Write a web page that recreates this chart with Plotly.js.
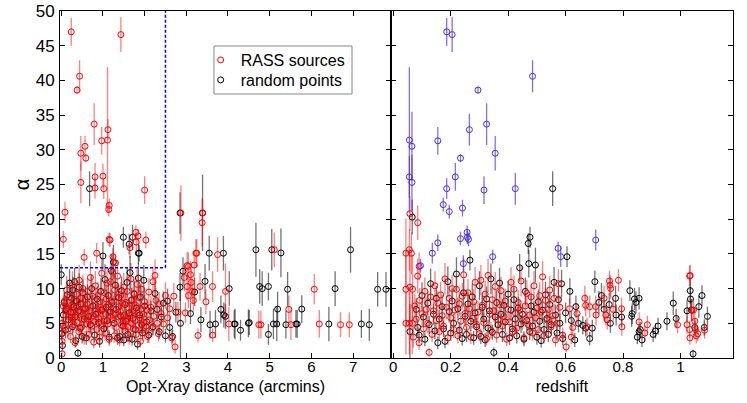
<!DOCTYPE html>
<html>
<head>
<meta charset="utf-8">
<script src="https://cdn.plot.ly/plotly-3.0.1.min.js"></script>
<style>html,body{margin:0;padding:0;background:#fff;}#plot{width:747px;height:403px;}</style>
</head>
<body>
<div id="plot"></div>
<script>
// ---------- Left panel: RASS sources (red) ----------
const leftRedX = [
 0.24,1.43,0.44,0.38,0.79,1.12,0.97,1.11,0.57,0.47,
 0.59,0.47,0.81,1.00,0.81,1.02,2.00,0.09,0.05,1.15,
 1.14,1.15,1.17,0.55,0.85,1.24,1.30,1.79,1.65,2.03,
 1.80,1.84,
 0.02,0.02,0.03,0.02,0.04,0.05,0.08,0.10,0.12,0.13,0.15,0.17,0.18,0.20,0.22,0.24,0.25,0.27,0.28,0.30,
 0.32,0.33,0.35,0.37,0.38,0.40,0.42,0.43,0.45,0.47,0.48,0.50,0.52,0.53,0.55,0.56,0.58,0.60,
 0.62,0.63,0.65,0.67,0.68,0.70,0.72,0.73,0.75,0.77,0.78,0.80,0.82,0.83,0.85,0.87,0.88,0.90,0.92,0.93,0.95,0.97,0.98,1.00,
 1.02,1.03,1.05,1.07,1.08,1.10,1.12,1.13,1.15,1.17,1.18,1.20,1.22,1.23,1.25,1.27,1.28,1.30,1.32,1.33,1.35,1.37,1.38,1.40,1.42,1.43,1.45,1.47,1.48,1.50,
 1.52,1.53,1.55,1.57,1.58,1.60,1.62,1.63,1.65,1.67,1.68,1.70,1.72,1.73,1.75,1.77,1.78,1.80,1.82,1.83,1.85,1.87,1.88,1.90,1.92,1.93,1.95,1.97,1.98,2.00,
 2.03,2.05,2.07,2.10,2.12,2.15,2.18,2.20,2.22,2.25,2.27,2.30,2.33,2.35,2.40,2.45,2.50,2.55,2.60,2.65,2.70,2.73,2.80,
 2.87,3.38,3.39,3.23,3.75,5.11,3.02,3.19,3.25,3.05,
 3.02,3.05,3.12,3.15,3.17,3.28,3.33,3.47,3.63,3.63,
 3.94,4.02,4.74,4.79,5.46,5.51,6.07,6.19,6.70,6.91,
 2.95,3.10,2.98
];
const leftRedAlpha = [
 47.0,46.6,40.6,38.6,33.7,32.9,31.3,31.4,30.5,29.5,
 28.8,25.3,26.1,26.2,24.5,24.4,24.2,21.0,17.1,22.0,
 21.4,17.1,17.0,14.5,15.1,14.6,13.7,18.1,15.9,17.0,
 16.7,17.6,
 0.6,2.4,3.6,5.0,4.6,7.5,8.2,6.8,5.5,9.8,7.2,4.2,6.0,8.8,3.1,7.6,5.8,10.5,6.5,4.8,
 8.0,2.2,6.2,9.2,5.1,7.4,3.8,11.2,6.6,8.6,4.4,5.6,10.0,7.0,2.9,6.0,8.4,4.9,
 7.8,9.6,5.4,3.4,6.8,11.6,7.3,4.6,8.9,6.1,2.3,5.2,10.4,7.6,4.1,6.5,9.0,5.7,3.0,8.1,6.9,12.2,4.7,7.1,
 5.3,9.4,3.6,6.3,8.5,10.8,4.9,7.7,2.7,6.0,11.0,8.2,5.5,12.4,7.0,3.2,9.8,6.4,4.4,8.8,11.8,5.9,7.4,2.6,6.7,9.1,4.8,7.9,5.2,10.2,
 6.2,3.9,8.0,5.6,9.6,4.5,7.2,2.9,6.1,11.4,5.0,8.4,6.8,4.2,9.3,5.4,7.6,3.4,10.6,6.5,4.7,8.7,5.8,2.4,7.0,9.9,4.0,6.3,5.1,8.1,
 4.6,6.9,3.1,9.5,5.5,7.3,4.3,11.0,6.0,11.9,8.3,5.0,3.5,7.8,6.4,4.9,9.0,5.8,7.1,2.9,8.9,1.6,6.6,
 20.9,19.5,20.9,15.1,14.9,15.6,13.3,13.4,15.1,13.2,
 10.3,9.0,10.9,9.6,8.3,3.25,10.3,8.1,10.3,3.3,
 9.6,4.9,4.8,4.8,7.0,4.8,9.9,4.9,4.8,4.8,
 11.6,12.0,6.5
];
const leftRedErr = [
 2.0,2.5,2.3,0.6,3.0,1.5,2.0,10.5,1.5,2.5,
 0.6,3.0,2.0,1.8,1.5,1.5,2.0,1.5,1.2,1.0,
 1.0,1.0,1.0,1.2,1.5,1.2,1.2,1.0,1.5,1.2,
 1.2,1.0,
 0.5,0.8,1.0,1.0,1.2,1.5,1.2,1.5,1.5,2.0,1.3,1.2,1.4,1.8,1.0,1.5,1.3,2.0,1.6,1.2,
 1.5,0.8,1.4,1.8,1.3,1.6,1.1,2.2,1.5,1.7,1.2,1.4,2.0,1.6,1.0,1.5,1.8,1.3,
 1.7,2.0,1.4,1.1,1.6,2.3,1.6,1.2,1.9,1.5,0.9,1.3,2.1,1.7,1.2,1.5,2.0,1.4,1.0,1.8,1.6,2.4,1.3,1.6,
 1.4,2.0,1.1,1.5,1.8,2.2,1.3,1.7,1.0,1.5,2.2,1.8,1.4,2.5,1.6,1.0,2.0,1.5,1.2,1.9,2.3,1.5,1.7,0.9,1.6,1.9,1.3,1.7,1.4,2.1,
 1.5,1.2,1.8,1.4,2.0,1.2,1.6,1.0,1.5,2.3,1.3,1.8,1.6,1.2,2.0,1.4,1.7,1.1,2.2,1.5,1.3,1.9,1.4,0.9,1.6,2.0,1.2,1.5,1.3,1.8,
 1.3,1.6,1.0,2.0,1.4,1.7,1.2,2.2,1.5,2.3,1.8,1.3,1.1,1.7,1.5,1.3,1.9,1.4,1.6,1.0,1.9,1.0,1.5,
 4.0,3.5,2.0,2.0,2.5,2.5,2.0,2.0,2.0,2.0,
 2.0,1.8,2.0,1.8,1.6,1.0,2.0,1.8,2.2,1.0,
 4.0,2.5,2.0,2.0,2.0,2.2,2.2,2.0,1.8,1.8,
 2.0,2.0,1.5
];

// ---------- Left panel: random points (black) ----------
const leftBlackX = [
 0.68,1.49,1.71,1.63,1.85,1.87,2.85,3.39,1.00,1.25,
 0.00,0.01,0.03,0.05,0.07,0.10,0.12,0.15,0.17,0.20,
 0.22,0.25,0.27,0.28,0.30,0.32,0.33,0.35,0.37,0.40,
 0.42,0.43,0.45,0.47,0.50,0.52,0.55,0.58,0.60,0.63,
 0.66,0.70,0.73,0.76,0.80,0.83,0.86,0.90,0.92,0.95,
 0.98,1.02,1.05,1.08,1.10,1.13,1.15,1.18,1.20,1.22,
 1.27,1.30,1.32,1.35,1.38,1.40,1.42,1.45,1.48,1.50,
 1.53,1.55,1.58,1.60,1.63,1.65,1.68,1.70,1.72,1.75,
 1.78,1.80,1.83,1.85,1.88,1.90,1.93,1.95,1.98,2.00,
 2.05,2.10,2.15,2.20,2.25,2.30,2.35,2.40,2.45,2.50,
 2.55,2.60,2.67,2.75,2.85,2.86,
 3.10,3.45,3.55,3.57,3.70,3.83,3.89,3.90,3.94,4.03,
 4.15,4.17,4.30,4.49,4.51,4.67,4.76,4.82,4.97,4.97,
 5.05,5.09,5.17,5.19,5.27,5.39,5.43,5.63,5.66,5.77,
 6.42,6.57,6.94,7.20,7.39,7.59,7.79,2.92,3.20,3.35
];
const leftBlackAlpha = [
 24.4,17.4,17.4,16.4,15.1,15.1,20.9,20.9,14.7,13.8,
 12.0,3.5,1.8,6.2,8.0,4.0,7.0,9.1,5.5,10.8,
 6.6,8.6,4.5,9.8,7.4,11.0,5.9,2.5,8.2,0.7,
 6.8,10.2,4.3,7.8,3.1,9.4,5.6,7.1,2.9,8.8,
 6.0,4.8,10.0,7.5,3.3,6.3,8.5,5.1,2.4,9.6,
 6.9,4.2,11.3,7.3,5.4,9.0,3.0,6.6,12.6,8.0,
 5.0,10.5,7.0,2.9,8.7,3.1,6.1,9.7,4.6,2.6,
 7.7,5.3,10.9,3.4,6.5,12.3,8.3,2.7,5.7,9.2,
 4.1,7.2,2.0,11.5,6.2,8.8,4.8,3.6,11.2,7.5,
 5.2,3.3,6.8,4.5,9.3,7.0,3.8,5.9,7.9,3.2,
 8.2,4.4,3.1,6.6,10.2,5.0,
 6.4,11.05,15.1,4.8,4.9,7.0,15.1,6.2,6.0,10.0,
 4.9,4.9,4.0,5.0,5.1,15.6,10.3,10.0,10.3,3.4,
 15.6,4.9,4.9,7.05,15.15,4.8,9.9,4.9,4.9,7.05,
 4.9,10.0,15.6,4.9,4.8,9.9,9.9,12.5,9.5,5.5
];
const leftBlackErr = [
 2.5,1.5,1.8,1.5,1.5,1.2,3.0,5.5,2.0,2.5,
 1.5,1.0,0.7,1.5,1.6,1.2,1.5,1.8,1.4,2.0,
 1.5,1.7,1.2,1.9,1.6,2.0,1.4,0.9,1.7,0.6,
 1.5,2.0,1.2,1.6,1.0,1.9,1.4,1.6,1.0,1.8,
 1.5,1.3,2.0,1.6,1.1,1.5,1.8,1.3,0.9,1.9,
 1.6,1.2,2.2,1.6,1.4,1.9,1.0,1.5,2.4,1.7,
 1.3,2.1,1.6,1.0,1.8,1.0,1.5,2.0,1.3,0.9,
 1.7,1.4,2.2,1.1,1.5,2.4,1.8,0.9,1.4,1.9,
 1.2,1.6,0.8,2.2,1.5,1.8,1.3,1.1,2.2,1.6,
 1.4,1.1,1.5,1.2,1.9,1.6,1.1,1.4,1.7,1.0,
 1.8,1.2,1.0,1.5,2.0,5.5,
 1.5,2.5,2.5,2.0,2.0,2.0,2.5,1.8,1.8,2.5,
 2.0,2.2,1.5,2.0,1.8,3.9,2.5,2.5,2.0,1.5,
 3.0,2.2,2.5,2.5,3.5,2.0,2.5,2.0,2.0,2.0,
 2.5,2.5,3.3,2.0,2.3,2.5,2.5,2.0,2.0,1.8
];

// ---------- Right panel: RASS sources outside the box (red) ----------
const rightRedZ = [
 0.044,0.056,0.066,0.044,0.058,0.067,0.044,0.063,0.058,0.085,0.056,0.090,
 0.070,0.075,0.080,0.085,0.090,0.092,0.100,0.105,0.110,0.115,
 0.120,0.125,0.130,0.135,0.140,0.145,0.150,0.155,0.160,0.165,
 0.170,0.175,0.180,0.185,0.190,0.195,0.200,0.205,0.210,0.215,
 0.220,0.225,0.230,0.235,0.240,0.245,0.250,0.255,0.260,0.265,
 0.270,0.275,0.280,0.285,0.290,0.295,0.300,0.305,0.310,0.315,
 0.320,0.325,0.330,0.335,0.340,0.345,0.350,0.355,0.360,0.365,
 0.370,0.375,0.380,0.385,0.390,0.395,0.400,0.405,0.410,0.415,
 0.420,0.425,0.430,0.435,0.440,0.445,0.450,0.455,0.460,0.465,
 0.470,0.475,0.480,0.485,0.490,0.495,0.500,0.505,0.510,0.515,
 0.520,0.525,0.530,0.535,0.540,0.545,0.550,0.555,0.560,0.565,
 0.570,0.575,0.580,0.590,0.602,0.614,0.620,0.625,0.640,0.667,
 0.670,0.675,0.684,0.705,0.706,0.734,0.740,0.745,0.753,0.755,
 0.757,0.766,0.784,0.795,0.796,0.856,0.876,0.885,0.990,1.023,
 1.032,1.034,1.040,1.045,1.032,1.033,1.050,1.052,1.055,1.060,1.084
];
const rightRedAlpha = [
 5.0,5.0,5.0,9.9,10.2,9.9,15.1,15.1,20.8,19.5,15.6,13.2,
 3.0,7.5,5.6,11.8,2.2,8.3,6.4,4.2,9.6,7.0,
 5.0,0.8,8.8,3.4,6.8,10.4,5.4,7.9,3.8,9.1,
 6.1,4.6,11.4,7.3,2.9,8.6,5.8,10.0,4.1,6.9,
 9.9,3.2,7.8,5.3,8.9,12.0,6.4,4.4,9.4,7.1,
 3.0,5.7,8.1,10.9,4.8,6.6,3.5,11.2,7.6,5.1,
 9.2,2.8,11.9,6.3,4.0,8.4,6.8,10.3,3.3,5.5,
 7.7,9.7,4.6,6.0,8.2,2.7,7.0,5.2,10.9,3.8,
 9.9,6.5,4.3,8.0,6.9,11.1,5.4,2.9,7.5,9.3,
 4.8,6.2,8.8,3.6,10.4,5.8,7.2,4.1,9.0,6.6,
 11.7,3.2,8.3,5.5,7.0,9.8,4.5,6.1,8.6,2.6,
 5.0,10.7,7.3,3.3,1.6,7.1,3.0,4.4,6.4,8.6,
 7.6,4.5,7.4,7.4,6.2,8.6,6.2,5.5,11.1,10.5,
 10.0,7.0,11.2,7.1,4.5,5.2,3.6,4.8,4.8,4.8,
 11.8,11.9,6.9,6.9,4.1,2.9,5.3,4.1,3.2,3.5,4.0
];
const rightRedErr = [
 4.5,4.5,4.5,5.5,5.5,5.0,5.0,3.0,2.5,2.5,3.0,2.0,
 1.5,1.8,1.5,2.5,1.0,1.8,1.6,1.3,2.0,1.7,
 1.4,0.6,1.9,1.1,1.6,2.1,1.4,1.8,1.2,1.9,
 1.5,1.3,2.3,1.7,1.0,1.8,1.5,2.0,1.2,1.6,
 2.0,1.1,1.7,1.4,1.9,2.4,1.5,1.2,2.0,1.6,
 1.0,1.4,1.8,2.2,1.3,1.6,1.1,2.2,1.7,1.4,
 1.9,1.0,2.4,1.5,1.2,1.8,1.6,2.1,1.1,1.4,
 1.7,2.0,1.3,1.5,1.8,1.0,1.6,1.4,2.2,1.2,
 2.0,1.5,1.2,1.8,1.6,2.2,1.4,1.0,1.7,1.9,
 1.3,1.5,1.8,1.1,2.1,1.4,1.6,1.2,1.9,1.5,
 2.3,1.1,1.8,1.4,1.6,2.0,1.3,1.5,1.8,1.0,
 1.4,2.1,1.7,1.1,0.8,1.5,1.0,1.2,1.5,1.8,
 1.6,1.3,1.6,1.6,1.5,1.8,1.5,1.4,1.5,1.5,
 1.5,1.6,1.6,1.6,1.3,1.4,1.1,1.3,1.2,1.3,
 1.5,1.5,1.6,1.6,1.2,1.0,1.4,1.2,1.1,1.1,1.2
];

// ---------- Right panel: RASS sources inside the box (blue) ----------
const rightBlueZ = [
 0.186,0.205,0.485,0.295,0.056,0.065,0.155,0.265,0.325,0.234,
 0.355,0.056,0.065,0.216,0.186,0.316,0.425,0.174,0.195,0.241,
 0.234,0.257,0.258,0.262,0.155,0.136,0.095,0.244,0.346,0.574,
 0.583,0.705
];
const rightBlueAlpha = [
 47.0,46.6,40.6,38.6,31.4,30.5,31.3,32.9,33.7,28.8,
 29.5,26.1,25.3,26.1,24.4,24.2,24.4,22.1,21.1,21.6,
 17.2,18.1,17.4,17.1,16.6,15.1,13.3,13.6,14.6,15.8,
 14.6,17.0
];
const rightBlueErr = [
 2.0,2.5,2.3,0.5,10.5,5.0,2.0,2.3,3.0,0.6,
 2.5,3.0,4.0,2.0,1.5,2.0,2.3,1.0,1.0,1.2,
 1.0,1.0,1.0,1.0,1.2,1.5,1.0,1.2,1.0,1.0,
 1.5,1.5
];

// ---------- Right panel: random points (black) ----------
const rightBlackZ = [
 0.066,0.058,0.080,0.085,0.090,0.470,0.476,0.267,
 0.100,0.105,0.110,0.120,0.125,0.130,0.140,0.145,0.150,0.155,
 0.160,0.170,0.175,0.180,0.190,0.195,0.200,0.205,0.210,0.220,
 0.225,0.230,0.240,0.245,0.250,0.255,0.260,0.270,0.275,0.280,
 0.285,0.290,0.300,0.305,0.310,0.315,0.320,0.325,0.330,0.335,
 0.340,0.345,0.350,0.355,0.360,0.365,0.370,0.375,0.380,0.385,
 0.390,0.400,0.405,0.410,0.415,0.420,0.425,0.430,0.435,0.440,
 0.445,0.450,0.455,0.460,0.465,0.472,0.475,0.480,0.485,0.490,
 0.495,0.500,0.505,0.510,0.515,0.520,0.525,0.530,0.535,0.540,
 0.545,0.550,0.555,0.560,0.565,0.570,0.575,0.580,0.586,0.590,
 0.600,0.605,0.615,0.620,0.632,0.636,0.645,0.660,0.670,0.684,
 0.693,0.702,0.716,0.725,0.734,0.752,0.756,0.774,0.776,0.795,
 0.824,0.830,0.832,0.840,0.845,0.856,0.850,0.856,0.860,0.866,
 0.905,0.913,0.922,0.953,0.975,0.985,1.023,1.034,1.035,1.038,
 1.044,1.050,1.064,1.075,1.083,1.094
];
const rightBlackAlpha = [
 20.3,3.8,7.0,4.4,3.3,16.5,17.4,14.1,
 9.0,5.9,2.7,7.9,4.8,10.7,6.3,3.9,8.6,2.2,
 5.6,7.4,4.2,2.4,11.0,6.7,3.6,8.2,5.0,12.1,
 7.1,4.0,2.8,9.4,6.0,3.4,7.8,5.3,8.8,2.9,
 6.5,4.5,10.4,3.1,7.3,5.6,2.6,8.5,4.3,6.8,
 11.4,3.7,0.8,5.9,8.0,4.8,10.8,6.3,3.4,7.6,
 5.2,9.2,2.9,6.9,4.2,8.4,5.6,3.2,7.2,13.0,
 4.9,6.3,2.7,9.6,5.4,13.6,3.8,7.5,4.6,6.6,
 13.4,3.0,8.1,5.3,2.5,6.9,4.1,9.1,5.7,3.4,
 7.7,4.8,24.4,10.9,6.2,3.6,8.4,5.0,10.7,2.8,
 6.5,14.6,9.6,5.4,2.6,7.4,5.0,4.7,4.3,2.8,
 4.3,11.0,8.0,9.0,7.0,7.7,5.0,8.6,6.2,5.9,
 9.7,6.0,6.4,8.5,8.0,8.6,3.0,3.8,4.1,2.6,
 3.4,3.9,4.6,5.3,7.9,5.7,6.8,9.7,8.5,6.9,
 0.6,4.4,7.4,9.0,4.4,6.0
];
const rightBlackErr = [
 2.5,4.0,1.6,1.3,1.1,1.5,1.5,1.5,
 1.9,1.5,1.0,1.7,1.3,2.2,1.5,1.2,1.8,0.9,
 1.4,1.7,1.2,1.0,2.2,1.6,1.1,1.8,1.4,2.4,
 1.6,1.2,1.0,2.0,1.5,1.1,1.7,1.4,1.9,1.0,
 1.5,1.3,2.1,1.1,1.7,1.4,1.0,1.8,1.2,1.6,
 2.2,1.1,0.7,1.5,1.8,1.3,2.2,1.5,1.1,1.7,
 1.4,1.9,1.0,1.6,1.2,1.8,1.4,1.1,1.6,2.0,
 1.3,1.5,1.0,2.0,1.4,2.0,1.2,1.7,1.3,1.6,
 2.5,1.1,1.8,1.4,1.0,1.6,1.2,1.9,1.4,1.1,
 1.7,1.3,2.5,2.2,1.5,1.1,1.8,1.4,2.0,1.0,
 1.5,1.5,1.9,1.4,1.0,1.6,1.3,1.3,1.2,1.0,
 1.2,1.6,1.7,1.8,1.6,1.7,1.4,1.8,1.5,1.5,
 1.5,1.5,1.5,1.6,1.6,1.6,1.0,1.1,1.1,1.0,
 1.1,1.1,1.2,1.3,1.7,1.4,1.6,1.9,1.8,1.6,
 0.6,1.2,1.6,1.5,1.2,1.4
];

// ---------- Axis ticks ----------
const distTicks = [0,1,2,3,4,5,6,7];
const zTicks = [0,0.2,0.4,0.6,0.8,1.0];
const zTickText = ['0','0.2','0.4','0.6','0.8','1'];
const alphaTicks = [0,5,10,15,20,25,30,35,40,45,50];

const FONT = 'Liberation Sans, Arial, sans-serif';
const RED = '#ff0000', BLACK = '#000000', BLUE = '#4a2ce6';

function pts(x, y, e, col, ecol, xa, ya, extra) {
  return Object.assign({
    type: 'scatter', mode: 'markers', x: x, y: y, xaxis: xa, yaxis: ya,
    marker: {symbol: 'circle-open', size: 6, color: col, line: {width: 1, color: col}},
    error_y: {type: 'data', array: e, visible: true, color: ecol, thickness: 1.3, width: 0},
    showlegend: false, hoverinfo: 'skip'
  }, extra || {});
}

const data = [
  pts(leftBlackX, leftBlackAlpha, leftBlackErr, BLACK, 'rgba(0,0,0,0.55)', 'x', 'y',
      {name: 'random points', showlegend: true, legend: 'legend2'}),
  pts(leftRedX, leftRedAlpha, leftRedErr, RED, 'rgba(255,0,0,0.5)', 'x', 'y',
      {name: 'RASS sources', showlegend: true, legend: 'legend'}),
  pts(rightBlackZ, rightBlackAlpha, rightBlackErr, BLACK, 'rgba(0,0,0,0.55)', 'x2', 'y2'),
  pts(rightRedZ, rightRedAlpha, rightRedErr, RED, 'rgba(255,0,0,0.5)', 'x2', 'y2'),
  pts(rightBlueZ, rightBlueAlpha, rightBlueErr, BLUE, 'rgba(85,45,225,0.7)', 'x2', 'y2')
];

const split = 0.4918;
const axisCommon = {
  showline: true, linecolor: '#000', linewidth: 1, mirror: 'ticks',
  ticks: 'inside', ticklen: 5, tickcolor: '#000', tickwidth: 1,
  showgrid: false, zeroline: false
};
const xTickFont = {family: FONT, size: 15, color: '#000'};
const yTickFont = {family: FONT, size: 17, color: '#000'};
const legendCommon = {
  xanchor: 'left', yanchor: 'middle', bgcolor: 'rgba(0,0,0,0)', borderwidth: 0,
  font: {family: FONT, size: 16, color: '#000'}, itemwidth: 30
};

const layout = {
  width: 747, height: 403,
  margin: {l: 60, r: 14, t: 11, b: 45},
  paper_bgcolor: '#fff', plot_bgcolor: '#fff',
  font: {family: FONT, size: 16, color: '#000'},
  xaxis: Object.assign({}, axisCommon, {
    domain: [0, split], range: [-0.03, 7.91], tickmode: 'array', tickvals: distTicks,
    anchor: 'y', tickfont: xTickFont, ticklabelstandoff: -5,
    title: {text: 'Opt-Xray distance (arcmins)', font: {family: FONT, size: 16}, standoff: 6}
  }),
  yaxis: Object.assign({}, axisCommon, {
    range: [0, 50], tickmode: 'array', tickvals: alphaTicks, anchor: 'x',
    tickfont: yTickFont, ticklabelstandoff: 1,
    title: {text: 'α', font: {family: FONT, size: 20}, standoff: 0}
  }),
  xaxis2: Object.assign({}, axisCommon, {
    domain: [split, 1], range: [-0.008, 1.183], tickmode: 'array', tickvals: zTicks,
    ticktext: zTickText, anchor: 'y2', tickfont: xTickFont, ticklabelstandoff: -5,
    title: {text: 'redshift', font: {family: FONT, size: 16}, standoff: 6}
  }),
  yaxis2: Object.assign({}, axisCommon, {
    range: [0, 50], tickmode: 'array', tickvals: alphaTicks, anchor: 'x2',
    showticklabels: false
  }),
  shapes: [
    {type: 'line', xref: 'x', yref: 'y', x0: -0.03, x1: 2.5, y0: 13, y1: 13,
     line: {color: '#0000ff', width: 1.5, dash: '3px,2px'}},
    {type: 'line', xref: 'x', yref: 'y', x0: 2.5, x1: 2.5, y0: 13, y1: 50,
     line: {color: '#0000ff', width: 1.5, dash: '3px,2px'}},
    {type: 'line', xref: 'paper', yref: 'paper', x0: split, x1: split, y0: 0, y1: 1,
     line: {color: '#000', width: 2}},
    // legend frame
    {type: 'rect', xref: 'paper', yref: 'paper', x0: 0.2288, x1: 0.4339, y0: 0.7608, y1: 0.8991,
     line: {color: '#888', width: 1}, fillcolor: 'rgba(0,0,0,0)'}
  ],
  legend: Object.assign({}, legendCommon, {x: 0.209, y: 0.8588}),
  legend2: Object.assign({}, legendCommon, {x: 0.209, y: 0.8012}),
  showlegend: true
};

Plotly.newPlot('plot', data, layout, {staticPlot: true, displayModeBar: false});
</script>
</body>
</html>
